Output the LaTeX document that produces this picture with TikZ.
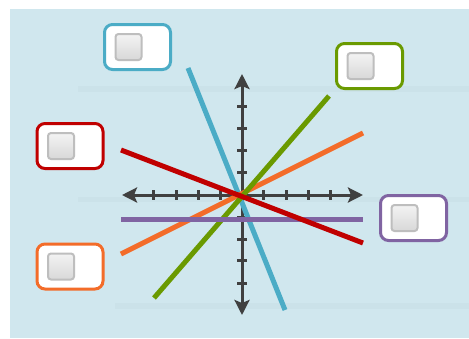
\documentclass[tikz,border=0pt]{standalone}
\usetikzlibrary{arrows.meta}
\definecolor{bgc}{RGB}{208,231,238}
\definecolor{bandc}{RGB}{203,226,233}
\definecolor{axisc}{RGB}{64,64,64}
\definecolor{cyanc}{RGB}{75,172,198}
\definecolor{greenc}{RGB}{106,154,0}
\definecolor{orangec}{RGB}{243,108,41}
\definecolor{redc}{RGB}{192,0,0}
\definecolor{purplec}{RGB}{128,100,162}
\definecolor{sqtop}{RGB}{243,243,243}
\definecolor{sqbot}{RGB}{216,216,216}
\definecolor{sqline}{RGB}{190,190,190}
\tikzset{
  answerbox/.style={draw, line width=3pt, fill=white, rounded corners=8pt,
    minimum width=66pt, minimum height=45pt, inner sep=0pt},
  chk/.style={draw=sqline, line width=2pt, top color=sqtop, bottom color=sqbot,
    rounded corners=3pt, minimum size=26pt, inner sep=0pt},
  axisline/.style={draw=axisc, line width=3pt,
    {Stealth[length=15pt,width=15pt,inset=3pt]}-{Stealth[length=15pt,width=15pt,inset=3pt]}},
  tickmark/.style={draw=axisc, line width=3pt},
  graphline/.style={line width=5pt},
}
\begin{document}
\begin{tikzpicture}[x=1pt,y=-1pt]
\useasboundingbox (0,0) rectangle (469,338);
\fill[white] (0,0) rectangle (469,338);
\fill[bgc] (10,9) rectangle (469,338);
\fill[bandc] (78,86) rectangle (469,92);
\fill[bandc] (78,197) rectangle (469,202);
\fill[bandc] (115,303) rectangle (469,309);

% axes
\coordinate (o) at (242,195);
\coordinate (xl) at (122,195);
\coordinate (xr) at (363,195);
\coordinate (yt) at (242,74);
\coordinate (yb) at (242,315);
\draw[axisline] (xl) -- (xr);
\draw[axisline] (yt) -- (yb);
\foreach \x in {153,176,198,220,263,286,308,330}
  \draw[tickmark] (\x,190) -- (\x,200);
\foreach \y in {106,128,150,172,217,239,260,283}
  \draw[tickmark] (237,\y) -- (247,\y);

% lines
\coordinate (c1) at (188,68);  \coordinate (c2) at (285,310);
\coordinate (o1) at (363,133); \coordinate (o2) at (121,254);
\coordinate (g1) at (329,96);  \coordinate (g2) at (154,298);
\coordinate (p1) at (121,219); \coordinate (p2) at (363,219);
\coordinate (r1) at (121,150); \coordinate (r2) at (363,243);
\draw[graphline, cyanc] (c1) -- (c2);
\draw[graphline, orangec] (o1) -- (o2);
\draw[graphline, greenc] (g1) -- (g2);
\draw[graphline, purplec] (p1) -- (p2);
\draw[graphline, redc] (r1) -- (r2);

% answer boxes
\node[answerbox, draw=cyanc] (bcyan) at (137.5,47) {};
\node[answerbox, draw=greenc] (bgreen) at (369.5,66) {};
\node[answerbox, draw=redc] (bred) at (70,146) {};
\node[answerbox, draw=orangec] (borange) at (70,266.5) {};
\node[answerbox, draw=purplec] (bpurple) at (413.5,218) {};
\node[chk] (kcyan) at ([xshift=25.5pt]bcyan.west) {};
\node[chk] (kgreen) at ([xshift=25.5pt]bgreen.west) {};
\node[chk] (kred) at ([xshift=25.5pt]bred.west) {};
\node[chk] (korange) at ([xshift=25.5pt]borange.west) {};
\node[chk] (kpurple) at ([xshift=25.5pt]bpurple.west) {};
\end{tikzpicture}
\end{document}
